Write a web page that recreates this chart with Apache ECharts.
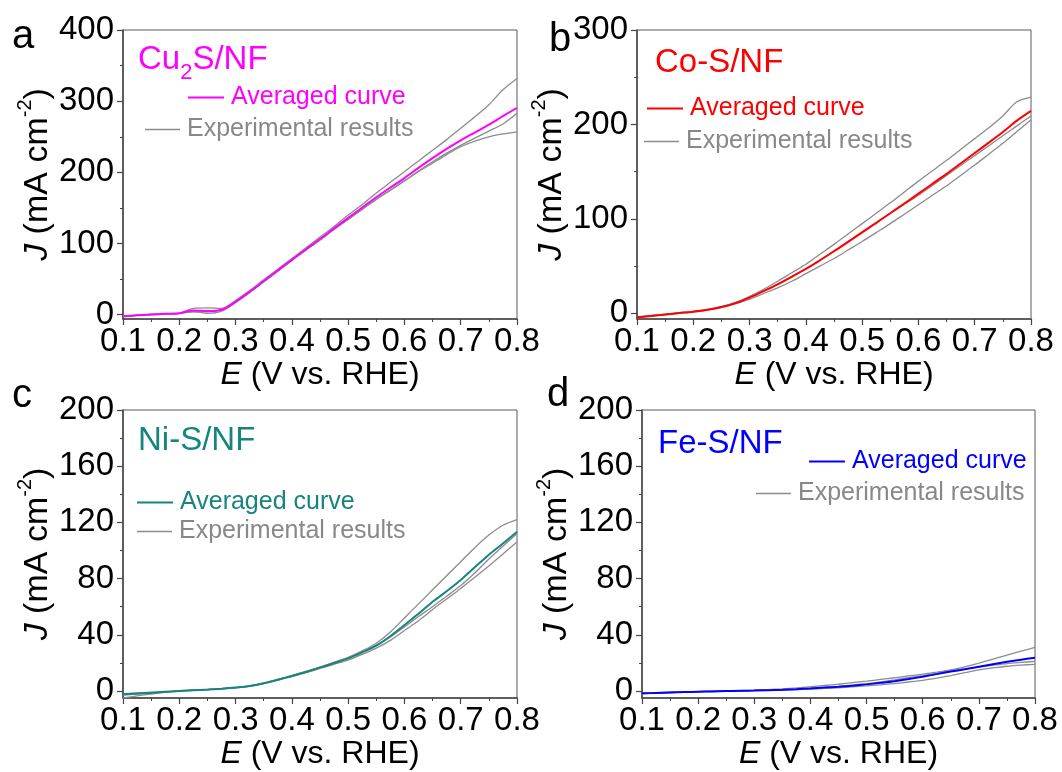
<!DOCTYPE html>
<html><head><meta charset="utf-8">
<script src="https://cdn.jsdelivr.net/npm/echarts@6/dist/echarts.min.js"></script>
<style>html,body{margin:0;padding:0;background:#fff}#c{width:1062px;height:772px}</style>
</head><body><div id="c"></div>
<script>
// ---------- data ----------
const E = [0.1,0.125,0.15,0.175,0.2,0.225,0.25,0.275,0.3,0.325,0.35,0.375,0.4,0.425,0.45,0.475,0.5,0.525,0.55,0.575,0.6,0.625,0.65,0.675,0.7,0.725,0.75,0.775,0.8];
const xTicks = [0.1,0.2,0.3,0.4,0.5,0.6,0.7,0.8];
const yTicksA = [0,100,200,300,400], yMinorA = [50,150,250,350];
const yTicksB = [0,100,200,300],     yMinorB = [50,150,250];
const yTicksCD = [0,40,80,120,160,200], yMinorCD = [20,60,100,140,180];

// (a) Cu2S/NF
const cuAvg  = [-2.3,-0.7,0.3,1.3,2,5.8,5.2,7,18.3,32.3,47.3,62.3,77.3,92,106.3,121.3,136,150.7,165,178.7,192,206.3,220,233,245,256,267,279,290.7];
const cuExp1 = [-3,-1,0,1,2,9,9.5,9,20,34,49,64,79,94,109,124,140,155,171,186,201,216,231,246,262,278,295,316,332];
const cuExp2 = [-2,-0.5,0.5,1.5,2,4.5,2,5,17,31,46,61,76,91,105,120,134,148,162,175,188,201,213,225,236,244,250,254,257];
const cuExp3 = [-2,-0.5,0.5,1.5,2,4,4,7,18,32,47,62,77,91,105,120,134,149,162,175,188,202,215,227,238,248,258,268,283];
// (b) Co-S/NF
const coAvg  = [-4.2,-2.7,-1.2,0.3,1.8,3.8,6.7,10.8,16.7,23.5,30.7,38.7,47,56.2,65.7,75.7,85.7,95.8,106,116.3,126.7,137.2,147.7,158.7,169.7,180.7,192,204,214.3];
const coExp1 = [-4,-2.5,-1,0.5,2,4,7,11.5,18,25.5,34,43,52,62.5,73,84,95,106,117,128.5,140,151,162,173.5,185,196.5,209,224,229];
const coExp2 = [-4.5,-3,-1.5,0,1.5,3.5,6,10,15,21,27,34,42,50,58,67,76,85.5,95,105,115,125,135,146,157,168.5,180,192.5,205];
const coExp3 = [-4,-2.5,-1,0.5,2,4,7,11,17,24,31,39,47,56,66,76,86,96,106,115.5,125,135.5,146,156.5,167,177.5,188,198.5,209];
// (c) Ni-S/NF
const niAvg  = [-2.4,-1.8,-1.2,-0.6,0,0.5,1,1.6,2.4,3.5,5.5,8,10.7,13.5,16.6,19.8,23.2,27.5,32.3,39,47,55,63.5,71,79,88,97,105,113.4];
const niExp1 = [-3,-2.2,-1.5,-0.8,0,0.5,1,1.6,2.4,3.6,5.6,8.2,11,14,17,20.5,24,28.5,34,42,52,62,72,82,92,102,111,118,122];
const niExp2 = [-5,-3.5,-2.2,-1,0,0.5,1,1.6,2.3,3.3,5.2,7.6,10.3,13,16,19,22,26,30.5,36,43,50,58,65.5,73,81,89,97.5,106];
const niExp3 = [-2,-1.5,-1,-0.5,0,0.5,1,1.6,2.4,3.5,5.6,8.2,11,13.8,17,20.2,23.5,28,32.5,38.5,45.5,53,60,67.5,75,84,94,103,112];
// (d) Fe-S/NF
const feAvg  = [-1.7,-1.4,-1.1,-0.8,-0.5,-0.3,-0.1,0.1,0.3,0.6,0.9,1.3,1.8,2.4,3,3.8,4.7,5.8,7,8.5,10.2,12,13.8,15.5,17.3,19.1,20.8,22.3,23.7];
const feExp1 = [-1.8,-1.5,-1.1,-0.8,-0.5,-0.2,0,0.3,0.6,1,1.5,2.2,3,3.9,4.8,5.9,7,8.2,9.4,10.7,12,13.4,15,17.2,19.8,22.6,25.5,28.3,31];
const feExp2 = [-2,-1.6,-1.2,-0.9,-0.6,-0.4,-0.2,0,0.2,0.4,0.6,0.9,1.3,1.8,2.3,2.9,3.6,4.4,5.3,6.4,7.6,9.2,11,13,15,16.4,17.6,18.4,19];
const feExp3 = [-1.5,-1.2,-0.9,-0.7,-0.4,-0.2,0,0.2,0.4,0.7,1,1.4,2,2.6,3.3,4.2,5.2,6.5,7.9,9.5,11,12.7,14.5,15.7,17,18.3,19.5,20.3,21];

const avgLabel = 'Averaged curve', expLabel = 'Experimental results';
const xName = '{i|E} (V vs. RHE)';
const yName = '{i|J} (mA cm{s|-2})';

// ---------- layout ----------
const FONT = 'Liberation Sans, Arial, Helvetica, sans-serif';
const GRAY = '#8c8c8c';
const panels = [
  {key:'a', grid:{left:123,top:30,width:394,height:289}, ymin:-6, ymax:400, ticks:yTicksA, minor:yMinorA, color:'#ff00ff', nameGap:62,
   avg:cuAvg, exps:[cuExp1,cuExp2,cuExp3],
   legAvg:{left:188,top:85}, legExp:{left:145,top:117}},
  {key:'b', grid:{left:637,top:30,width:394,height:289}, ymin:-6, ymax:300, ticks:yTicksB, minor:yMinorB, color:'#ff0000', nameGap:58,
   avg:coAvg, exps:[coExp1,coExp2,coExp3],
   legAvg:{left:647,top:96}, legExp:{left:644,top:129}},
  {key:'c', grid:{left:123,top:410,width:394,height:288}, ymin:-5, ymax:200, ticks:yTicksCD, minor:yMinorCD, color:'#16857f', nameGap:55,
   avg:niAvg, exps:[niExp1,niExp2,niExp3],
   legAvg:{left:137,top:490}, legExp:{left:137,top:519}},
  {key:'d', grid:{left:642,top:410,width:393,height:288}, ymin:-5, ymax:200, ticks:yTicksCD, minor:yMinorCD, color:'#0000ff', nameGap:59,
   avg:feAvg, exps:[feExp1,feExp2,feExp3],
   legAvg:{left:809,top:449}, legExp:{left:756,top:481}}
];

const grids=[], xAxes=[], yAxes=[], series=[], legends=[];
panels.forEach((p,i)=>{
  grids.push(Object.assign({show:true, borderColor:'#5a5a5a', borderWidth:1, backgroundColor:'transparent'}, p.grid));
  xAxes.push({gridIndex:i, type:'value', min:0.1, max:0.8, interval:0.1,
    axisLine:{show:true, onZero:false, lineStyle:{color:'#444', width:1.5}},
    axisTick:{show:true, inside:false, length:6, lineStyle:{color:'#444', width:1.2}},
    minorTick:{show:true, splitNumber:2, length:3, lineStyle:{color:'#444', width:1}},
    splitLine:{show:false},
    axisLabel:{color:'#000', fontSize:33, fontFamily:FONT, margin:6, formatter:v=>v.toFixed(1), showMinLabel:true, showMaxLabel:true},
    name:xName, nameLocation:'middle', nameGap:40,
    nameTextStyle:{color:'#000', fontSize:32, fontFamily:FONT, rich:{i:{fontStyle:'italic', fontSize:32, fontFamily:FONT, color:'#000'}}}
  });
  yAxes.push({gridIndex:i, type:'value', position:'left', min:p.ymin, max:p.ymax,
    axisLine:{show:true, onZero:false, lineStyle:{color:'#444', width:1.5}},
    axisTick:{show:true, inside:false, length:6, customValues:p.ticks, lineStyle:{color:'#444', width:1.2}},
    splitLine:{show:false},
    axisLabel:{color:'#000', fontSize:33, fontFamily:FONT, margin:9, customValues:p.ticks},
    name:yName, nameLocation:'middle', nameGap:p.nameGap,
    nameTextStyle:{color:'#000', fontSize:34, fontFamily:FONT,
      rich:{i:{fontStyle:'italic', fontSize:34, fontFamily:FONT, color:'#000'},
            s:{fontSize:20, fontFamily:FONT, color:'#000', padding:[0,0,26,0]}}}
  });
  yAxes.push({gridIndex:i, type:'value', position:'left', min:p.ymin, max:p.ymax,
    axisLine:{show:false}, splitLine:{show:false}, axisLabel:{show:false},
    axisTick:{show:true, inside:false, length:3, customValues:p.minor, lineStyle:{color:'#444', width:1}}
  });
  const avgName='avg_'+p.key, expName='exp_'+p.key;
  p.exps.forEach(arr=>{
    series.push({type:'line', name:expName, xAxisIndex:i, yAxisIndex:2*i, data:E.map((x,k)=>[x,arr[k]]),
      symbol:'none', smooth:0.3, color:GRAY, lineStyle:{color:GRAY, width:1.3}, z:2});
  });
  series.push({type:'line', name:avgName, xAxisIndex:i, yAxisIndex:2*i, data:E.map((x,k)=>[x,p.avg[k]]),
    symbol:'none', smooth:0.3, color:p.color, lineStyle:{color:p.color, width:2}, z:3});
  legends.push({left:p.legAvg.left, top:p.legAvg.top, padding:0, icon:'rect', itemWidth:36, itemHeight:2, selectedMode:false,
    data:[{name:avgName, textStyle:{color:p.color}}], formatter:()=>avgLabel,
    textStyle:{fontSize:25, fontFamily:FONT, color:p.color, padding:[0,0,0,2]}});
  legends.push({left:p.legExp.left, top:p.legExp.top, padding:0, icon:'rect', itemWidth:35, itemHeight:1.5, selectedMode:false,
    data:[{name:expName, textStyle:{color:'#888'}}], formatter:()=>expLabel,
    textStyle:{fontSize:25, fontFamily:FONT, color:'#888', padding:[0,0,0,2]}});
});

const titles = [
  {text:'a', left:12, top:17, padding:0, textStyle:{fontSize:40, fontWeight:'normal', color:'#000', fontFamily:FONT}},
  {text:'b', left:549, top:20, padding:0, textStyle:{fontSize:40, fontWeight:'normal', color:'#000', fontFamily:FONT}},
  {text:'c', left:12, top:376, padding:0, textStyle:{fontSize:40, fontWeight:'normal', color:'#000', fontFamily:FONT}},
  {text:'d', left:547, top:375, padding:0, textStyle:{fontSize:40, fontWeight:'normal', color:'#000', fontFamily:FONT}},
  {text:'{m|Cu}{b|2}{m|S/NF}', left:138, top:36, padding:0,
   textStyle:{fontSize:33, fontWeight:'normal', fontFamily:FONT, color:'#ff00ff',
     rich:{m:{fontSize:33, fontFamily:FONT, color:'#ff00ff'}, b:{fontSize:22, fontFamily:FONT, color:'#ff00ff', padding:[26,0,0,0]}}}},
  {text:'Co-S/NF', left:655, top:46, padding:0, textStyle:{fontSize:33, fontWeight:'normal', fontFamily:FONT, color:'#ff0000'}},
  {text:'Ni-S/NF', left:138, top:424, padding:0, textStyle:{fontSize:33, fontWeight:'normal', fontFamily:FONT, color:'#16857f'}},
  {text:'Fe-S/NF', left:658, top:427, padding:0, textStyle:{fontSize:33, fontWeight:'normal', fontFamily:FONT, color:'#0000ff'}}
];

const chart = echarts.init(document.getElementById('c'), null, {renderer:'canvas'});
chart.setOption({
  animation:false, backgroundColor:'#fff',
  title:titles, legend:legends, grid:grids, xAxis:xAxes, yAxis:yAxes, series:series
});
</script></body></html>
